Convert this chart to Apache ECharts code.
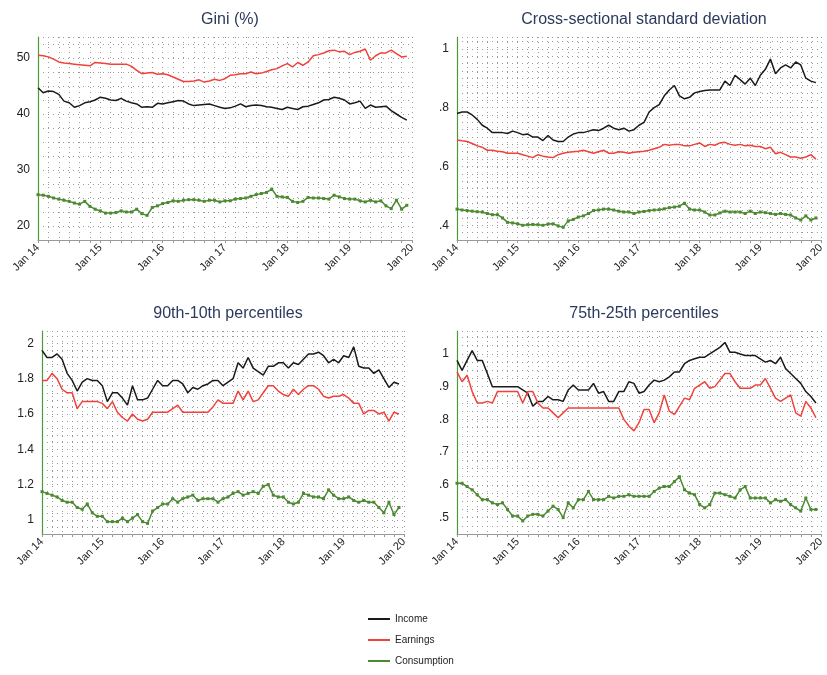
<!DOCTYPE html>
<html lang="en">
<head>
<meta charset="UTF-8">
<title>Inequality</title>
<style>html,body{margin:0;background:#fff}#chart{width:827px;height:675px}</style>
</head>
<body>
<div id="chart"></div>
<script src="https://cdn.jsdelivr.net/npm/echarts@6/dist/echarts.min.js"></script>
<script>
// monthly, Jan 2014 .. Dec 2019 (x = months since Jan 2014)
var giniIncome = [44.7,43.8,44.1,44.0,43.5,42.3,42.0,41.2,41.5,42.0,42.2,42.5, 43.0,42.8,42.5,42.4,42.8,42.3,42.0,41.8,41.2,41.3,41.2,41.9, 41.8,42.0,42.2,42.4,42.3,41.8,41.5,41.6,41.7,41.8,41.5,41.2, 41.0,41.1,41.4,41.8,41.3,41.5,41.6,41.5,41.3,41.2,41.0,40.8, 41.2,41.0,40.8,41.3,41.4,41.7,42.0,42.5,42.6,43.0,42.8,42.5, 41.8,42.0,42.3,41.0,41.6,41.2,41.3,41.4,40.6,40.0,39.4,38.9];
var giniEarnings = [50.5,50.4,50.2,49.8,49.3,49.1,49.0,48.9,48.8,48.7,48.6,49.2, 49.1,49.0,48.9,48.9,48.9,48.9,48.5,47.8,47.2,47.3,47.4,47.1, 47.2,47.0,46.6,46.2,45.8,45.8,45.9,46.1,45.7,45.9,46.2,46.0, 46.3,46.9,47.0,47.2,47.2,47.5,47.2,47.3,47.6,47.9,48.1,48.6, 49.0,48.4,49.2,48.7,49.3,50.4,50.6,50.9,51.3,51.4,51.1,51.2, 50.6,51.0,51.2,51.6,49.6,50.4,50.9,50.9,51.4,50.8,50.2,50.3];
var giniCons = [25.6,25.5,25.3,25.0,24.8,24.6,24.4,24.1,23.9,24.4,23.5,23.0, 22.7,22.3,22.3,22.4,22.7,22.5,22.5,23.0,22.2,21.9,23.3,23.6, 24.0,24.2,24.5,24.4,24.6,24.7,24.7,24.6,24.4,24.6,24.6,24.3, 24.5,24.5,24.8,24.9,25.0,25.3,25.6,25.8,26.0,26.6,25.3,25.2, 25.1,24.4,24.2,24.4,25.1,25.0,25.0,24.9,24.8,25.5,25.2,24.9, 24.8,24.8,24.5,24.3,24.6,24.3,24.5,23.6,23.1,24.6,23.0,23.7];

var sdIncome = [.78,.785,.785,.775,.76,.74,.73,.715,.715,.715,.712,.72, .715,.708,.71,.70,.70,.688,.705,.69,.685,.685,.70,.71, .715,.715,.72,.725,.722,.73,.74,.73,.725,.73,.72,.725, .74,.75,.785,.80,.81,.84,.86,.875,.84,.83,.835,.85, .855,.858,.86,.86,.86,.89,.875,.91,.895,.88,.90,.875, .91,.93,.965,.915,.935,.945,.935,.955,.945,.90,.89,.885];
var sdEarnings = [.69,.687,.685,.678,.67,.665,.655,.655,.652,.65,.645,.645, .645,.64,.635,.63,.64,.635,.632,.63,.64,.645,.648,.65, .652,.655,.65,.645,.65,.655,.645,.645,.65,.648,.645,.648, .65,.652,.655,.66,.665,.675,.672,.675,.675,.67,.67,.675, .68,.668,.675,.672,.68,.682,.675,.672,.675,.67,.672,.668, .668,.66,.665,.643,.648,.64,.632,.632,.628,.632,.64,.625];
var sdCons = [.455,.452,.45,.448,.446,.445,.44,.436,.436,.425,.41,.408, .405,.40,.402,.403,.402,.40,.404,.405,.398,.393,.415,.42, .428,.432,.44,.45,.452,.455,.455,.452,.448,.445,.445,.44, .445,.447,.45,.452,.453,.456,.46,.462,.465,.475,.455,.452, .452,.445,.435,.435,.442,.448,.445,.445,.445,.44,.448,.44, .445,.443,.44,.437,.44,.437,.435,.425,.418,.432,.418,.425];

var p9010Income = [1.96,1.92,1.92,1.94,1.91,1.83,1.79,1.73,1.78,1.80,1.79,1.79, 1.76,1.67,1.72,1.72,1.69,1.65,1.76,1.68,1.68,1.69,1.74,1.79, 1.76,1.76,1.79,1.79,1.77,1.72,1.75,1.74,1.76,1.77,1.79,1.79, 1.76,1.78,1.80,1.89,1.86,1.92,1.86,1.84,1.82,1.87,1.87,1.89, 1.89,1.86,1.89,1.88,1.91,1.94,1.94,1.95,1.93,1.89,1.91,1.89, 1.93,1.92,1.98,1.87,1.86,1.86,1.83,1.85,1.80,1.75,1.78,1.77];
var p9010Earnings = [1.79,1.79,1.83,1.80,1.74,1.72,1.72,1.63,1.67,1.67,1.67,1.67, 1.66,1.63,1.67,1.61,1.58,1.56,1.60,1.57,1.56,1.57,1.61,1.61, 1.61,1.61,1.63,1.65,1.61,1.61,1.61,1.61,1.61,1.61,1.64,1.68, 1.66,1.66,1.66,1.73,1.68,1.73,1.67,1.68,1.72,1.76,1.76,1.73, 1.71,1.70,1.74,1.71,1.74,1.76,1.76,1.74,1.70,1.69,1.70,1.70, 1.71,1.69,1.66,1.66,1.60,1.62,1.62,1.60,1.61,1.56,1.61,1.60];
var p9010Cons = [1.16,1.15,1.14,1.13,1.11,1.10,1.10,1.07,1.06,1.09,1.04,1.02, 1.02,0.99,0.99,0.99,1.01,0.99,1.01,1.03,0.99,0.98,1.05,1.07, 1.09,1.09,1.12,1.10,1.12,1.13,1.14,1.11,1.12,1.12,1.12,1.10, 1.12,1.13,1.15,1.16,1.14,1.15,1.16,1.15,1.19,1.20,1.14,1.13, 1.13,1.10,1.09,1.10,1.15,1.14,1.13,1.13,1.12,1.17,1.14,1.12, 1.12,1.13,1.11,1.10,1.11,1.10,1.10,1.07,1.04,1.10,1.03,1.07];

var p7525Income = [.98,.95,.98,1.01,.98,.98,.94,.90,.90,.90,.90,.90, .90,.89,.88,.84,.855,.855,.87,.86,.86,.855,.89,.905, .89,.89,.89,.91,.88,.885,.855,.855,.885,.885,.915,.91, .88,.885,.905,.92,.915,.92,.93,.945,.945,.97,.98,.985, .99,.99,1.0,1.01,1.02,1.035,1.005,1.005,1.0,.995,.995,.995, .985,.975,.98,.97,.99,.955,.94,.925,.91,.885,.87,.85];
var p7525Earnings = [.945,.915,.935,.885,.85,.85,.855,.85,.885,.885,.885,.885, .885,.85,.885,.885,.85,.835,.835,.82,.805,.82,.835,.835, .835,.835,.835,.835,.835,.835,.835,.835,.835,.80,.78,.765, .79,.83,.83,.79,.82,.875,.825,.815,.84,.865,.86,.895, .905,.915,.895,.90,.92,.94,.94,.915,.895,.895,.895,.905, .905,.925,.895,.865,.855,.865,.875,.82,.81,.855,.835,.805];
var p7525Cons = [.605,.605,.595,.585,.57,.555,.555,.545,.54,.545,.525,.505, .505,.49,.505,.51,.51,.505,.52,.535,.525,.50,.545,.53, .555,.555,.58,.555,.555,.555,.565,.56,.565,.565,.57,.565, .565,.565,.565,.58,.59,.595,.595,.61,.625,.585,.575,.57, .54,.53,.54,.575,.575,.57,.565,.56,.585,.595,.56,.56, .56,.56,.545,.555,.55,.555,.54,.53,.52,.56,.525,.525];

var titles = ['Gini (%)', 'Cross-sectional standard deviation', '90th-10th percentiles', '75th-25th percentiles'];
var seriesNames = ['Income', 'Earnings', 'Consumption'];
var colors = ['#1a1a1a', '#f0413a', '#4c8a32'];
var panels = [
    [giniIncome, giniEarnings, giniCons],
    [sdIncome, sdEarnings, sdCons],
    [p9010Income, p9010Earnings, p9010Cons],
    [p7525Income, p7525Earnings, p7525Cons]
];
// y range, dotted grid step, label step
var yAxes = [
    {min: 17.5, max: 53.75, interval: 2.5, label: 10},
    {min: 0.35, max: 1.04, interval: 0.025, label: 0.2},
    {min: 0.92, max: 2.07, interval: 0.04, label: 0.2},
    {min: 0.45, max: 1.07, interval: 0.025, label: 0.1}
];
var grids = [
    {left: 38, width: 374, top: 37, height: 203},
    {left: 457, width: 364, top: 37, height: 203},
    {left: 42, width: 362, top: 331, height: 203},
    {left: 457, width: 364, top: 331, height: 203}
];

var chart = echarts.init(document.getElementById('chart'));
var option = {
    animation: false,
    textStyle: {fontFamily: 'Liberation Sans'},
    title: [], grid: [], xAxis: [], yAxis: [], series: [],
    legend: {
        show: true, orient: 'vertical', left: 368, top: 614, itemGap: 11, padding: 0,
        itemWidth: 22, itemHeight: 2, icon: 'rect',
        data: seriesNames.map(function (n, j) {
            return {name: n, itemStyle: {color: colors[j]}};
        }),
        textStyle: {fontSize: 10, color: '#222'}
    }
};
panels.forEach(function (p, i) {
    var g = grids[i], ya = yAxes[i];
    option.grid.push(g);
    option.title.push({
        text: titles[i], left: g.left + g.width / 2, top: g.top - 30, textAlign: 'center',
        textStyle: {fontSize: 16, fontWeight: 'normal', color: '#2b3a5c'}
    });
    option.xAxis.push({
        type: 'value', gridIndex: i, min: 0, max: 72, interval: 2,
        axisLine: {lineStyle: {color: '#999'}},
        axisTick: {length: 3, lineStyle: {color: '#999'}},
        splitLine: {lineStyle: {type: [1, 4], color: '#999'}},
        axisLabel: {
            rotate: 45, fontSize: 11, color: '#222', margin: 6,
            formatter: function (v) { return v % 12 === 0 ? 'Jan ' + (14 + v / 12) : ''; }
        }
    });
    option.yAxis.push({
        type: 'value', gridIndex: i, min: ya.min, max: ya.max, interval: ya.interval,
        axisLine: {show: true, lineStyle: {color: '#4c9a3a', width: 1.2}},
        axisTick: {show: false},
        splitLine: {lineStyle: {type: [1, 4], color: '#999'}},
        axisLabel: {
            fontSize: 12, color: '#222',
            formatter: function (v) {
                var k = v / ya.label;
                if (Math.abs(k - Math.round(k)) > 1e-6) return '';
                var s = String(Math.round(v * 100) / 100);
                return s.replace(/^0\./, '.');
            }
        }
    });
    p.forEach(function (arr, j) {
        option.series.push({
            name: seriesNames[j], type: 'line', xAxisIndex: i, yAxisIndex: i,
            data: arr.map(function (v, k) { return [k, v]; }),
            showSymbol: j === 2, symbol: 'rect', symbolSize: 3,
            itemStyle: {color: colors[j]},
            lineStyle: {color: colors[j], width: 1.5}
        });
    });
});
chart.setOption(option);
</script>
</body>
</html>
